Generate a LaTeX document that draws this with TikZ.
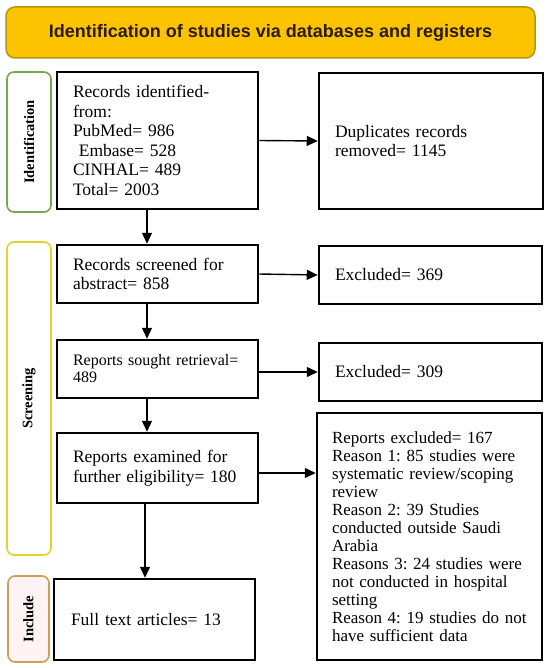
\documentclass[tikz,border=0pt]{standalone}
\usepackage{fontspec}
\setmainfont{Liberation Serif}
\newfontfamily\titlefont{Liberation Sans}
\usetikzlibrary{arrows.meta}
\frenchspacing
\definecolor{titlefill}{HTML}{FCC400}
\definecolor{titledraw}{HTML}{B3970F}
\definecolor{identdraw}{HTML}{74A84C}
\definecolor{screendraw}{HTML}{E2D22C}
\definecolor{incdraw}{HTML}{C9A058}
\definecolor{incfill}{HTML}{FFF3F6}
\definecolor{titletext}{HTML}{2B1A00}
\tikzset{
  flowbox/.style={draw=black, line width=2.5pt, rectangle, inner sep=0pt, align=left,
    font=\fontsize{17.5}{19.5}\selectfont},
  sidebox/.style={rectangle, rounded corners=7pt, line width=1.6pt, inner sep=0pt, fill=white,
    font=\fontsize{14.5}{16}\selectfont\bfseries},
  arr/.style={line width=1.4pt, -{Triangle[length=11pt,width=10pt]}}
}
\begin{document}
\begin{tikzpicture}[x=1pt,y=-1pt]
\useasboundingbox (0,0) rectangle (550,668);
\fill[white] (0,0) rectangle (550,668);
% title
\node[draw=titledraw, fill=titlefill, line width=1.5pt, rounded corners=9pt,
  minimum width=529pt, minimum height=51pt, inner sep=0pt,
  font=\titlefont\fontsize{18}{20}\selectfont\bfseries, text=titletext]
  (title) at (270.5,32.5) {Identification of studies via databases and registers};
% side labels
\node[sidebox, draw=identdraw, minimum width=44pt, minimum height=140pt] (sid) at (29,142) {};
\node[rotate=90, font=\fontsize{14.5}{16}\selectfont\bfseries] (sidt) at (sid.center) {Identification};
\node[sidebox, draw=screendraw, minimum width=44pt, minimum height=313pt] (sscr) at (29,398.5) {};
\node[rotate=90, font=\fontsize{14.5}{16}\selectfont\bfseries] (sscrt) at (sscr.center) {Screening};
\node[sidebox, draw=incdraw, fill=incfill, minimum width=41pt, minimum height=86pt] (sinc) at (28.5,619) {};
\node[rotate=90, font=\fontsize{14.5}{16}\selectfont\bfseries] (sinct) at (sinc.center) {Include};
% left column
\node[flowbox, minimum width=201pt, minimum height=137pt, text width=169pt] (b1) at (157.5,140.5)
  {Records identified-\\from:\\PubMed= 986\\\ Embase= 528\\CINHAL= 489\\Total= 2003};
\node[flowbox, minimum width=201pt, minimum height=58pt, text width=169pt] (b2) at (157.5,274)
  {Records screened for\\abstract= 858};
\node[flowbox, minimum width=201pt, minimum height=58pt, text width=169pt,
  font=\fontsize{16}{17}\selectfont] (b3) at (157.5,369)
  {Reports sought retrieval=\\489};
\node[flowbox, minimum width=201pt, minimum height=70pt, text width=169pt] (b4) at (157.5,468)
  {Reports examined for\\further eligibility= 180};
\node[flowbox, minimum width=201pt, minimum height=81pt, text width=167pt] (b5) at (154.5,619.5)
  {Full text articles= 13};
% right column
\node[flowbox, minimum width=224pt, minimum height=136pt, text width=192pt] (dup) at (431,141)
  {Duplicates records\\removed= 1145};
\node[flowbox, minimum width=223pt, minimum height=58pt, text width=191pt] (ex1) at (430.5,275)
  {Excluded= 369};
\node[flowbox, minimum width=223pt, minimum height=58pt, text width=191pt] (ex2) at (430.5,372)
  {Excluded= 309};
\node[flowbox, minimum width=225pt, minimum height=247pt, text width=195pt,
  font=\fontsize{17}{18}\selectfont] (ex3) at (429.5,536.5)
  {Reports excluded= 167\\Reason 1: 85 studies were\\systematic review/scoping\\review\\Reason 2: 39 Studies\\conducted outside Saudi\\Arabia\\Reasons 3: 24 studies were\\not conducted in hospital\\setting\\Reason 4: 19 studies do not\\have sufficient data};
% arrows
\draw[arr] (b1.east) -- (dup.west);
\draw[arr] (b2.east) -- (ex1.west);
\draw[arr] (b3.east |- ex2.west) -- (ex2.west);
\draw[arr] ([yshift=-5pt]b4.east) -- ([yshift=-5pt]b4.east -| ex3.west);
\draw[arr] ([xshift=-10.5pt]b1.south) -- ([xshift=-10.5pt]b2.north);
\draw[arr] ([xshift=-10.5pt]b2.south) -- ([xshift=-10.5pt]b3.north);
\draw[arr] ([xshift=-10.5pt]b3.south) -- ([xshift=-10.5pt]b4.north);
\draw[arr] ([xshift=-12.5pt]b4.south) -- ([xshift=-12.5pt]b4.south |- b5.north);
\end{tikzpicture}
\end{document}
